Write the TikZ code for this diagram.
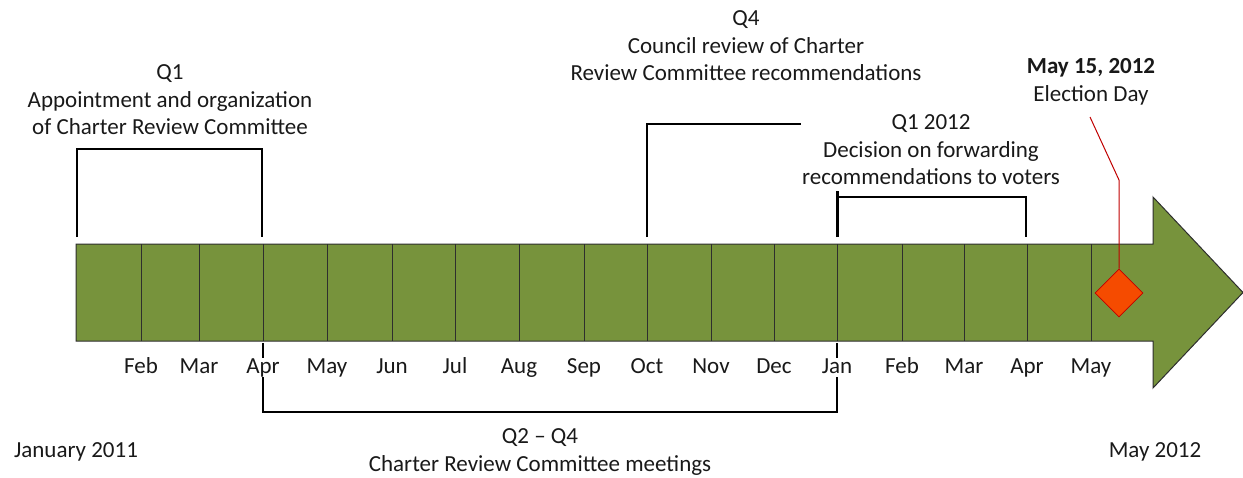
\documentclass[tikz,border=0pt]{standalone}
\usepackage{fontspec}
\setmainfont{Carlito}
\usetikzlibrary{shapes.geometric}
\definecolor{olivebar}{HTML}{77933C}
\definecolor{barline}{HTML}{2E2E2E}
\definecolor{darkred}{HTML}{C00000}
\definecolor{diamondfill}{HTML}{F54B00}
\begin{document}
\begin{tikzpicture}[x=1pt,y=-1pt,
  lbl/.style={font=\fontsize{23}{27.5}\selectfont, align=center, inner sep=0pt, text=black!90},
  mon/.style={font=\fontsize{23}{24}\selectfont, inner sep=0pt, fill=white, text=black!90, anchor=base},
  brk/.style={line width=1.5pt, black},
  divider/.style={line width=1pt, barline}]
\useasboundingbox (0,0) rectangle (1243,477);
% arrow body
\draw[fill=olivebar, draw=barline, line width=1pt, line join=miter]
  (76,244) -- (1153,244) -- (1153,197) -- (1243,292.5) -- (1153,388) -- (1153,341) -- (76,341) -- cycle;
\foreach \x in {141,199,263,327,392,455,519,584,647,711,774,837,902,964,1027,1091}
  \draw[divider] (\x,244) -- (\x,341);
% bottom bracket (drawn before labels so they cover it)
\coordinate (b1) at (263,343);
\coordinate (b2) at (263,412);
\coordinate (b3) at (837,412);
\coordinate (b4) at (837,343);
\draw[brk] (b1) -- (b2) -- (b3) -- (b4);
% month labels
\foreach \x/\m/\n in {141/Feb/m1,199/Mar/m2,263/Apr/m3,327/May/m4,392/Jun/m5,455/Jul/m6,519/Aug/m7,584/Sep/m8,647/Oct/m9,711/Nov/m10,774/Dec/m11,837/Jan/m12,902/Feb/m13,964/Mar/m14,1027/Apr/m15,1091/May/m16}
  \node[mon] (\n) at (\x,373) {\vphantom{Jpy}\m};
% Q1 bracket
\coordinate (qa1) at (77,237);
\coordinate (qa2) at (77,149);
\coordinate (qa3) at (262,149);
\coordinate (qa4) at (262,237);
\draw[brk] (qa1) -- (qa2) -- (qa3) -- (qa4);
\node[lbl] (q1text) at (170,100) {Q1\\Appointment and organization\\of Charter Review Committee};
% Q4 bracket
\coordinate (qb1) at (647,237);
\coordinate (qb2) at (647,124);
\coordinate (qb3) at (801,124);
\draw[brk] (qb1) -- (qb2) -- (qb3);
\node[lbl] (q4text) at (746,46) {Q4\\Council review of Charter\\Review Committee recommendations};
% Q1 2012 bracket
\coordinate (qc0) at (837,191);
\coordinate (qc1) at (837,237);
\coordinate (qc2) at (837,197);
\coordinate (qc3) at (1026,197);
\coordinate (qc4) at (1026,237);
\draw[brk] (qc1) -- (qc2) -- (qc3) -- (qc4);
\draw[line width=3pt] (qc0) -- (qc1);
\node[lbl] (q12text) at (931,150) {Q1 2012\\Decision on forwarding\\recommendations to voters};
% Q2-Q4
\node[lbl] (q24text) at (540,452) {Q2 -- Q4\\Charter Review Committee meetings};
% Election day
\node[lbl] (eltext) at (1091,82) {\textbf{May 15, 2012}\\Election Day};
\node[diamond, draw=darkred, fill=diamondfill, line width=0.8pt, minimum width=48pt, minimum height=48pt, inner sep=0pt] (dia) at (1119,293) {};
\coordinate (e1) at (1090,117);
\coordinate (e2) at (1119,180);
\draw[darkred, line width=1pt] (e1) -- (e2) -- (dia.north);
% ends
\node[lbl] (start) at (76,452) {January 2011};
\node[lbl] (end) at (1155,452) {May 2012};
\end{tikzpicture}
\end{document}
